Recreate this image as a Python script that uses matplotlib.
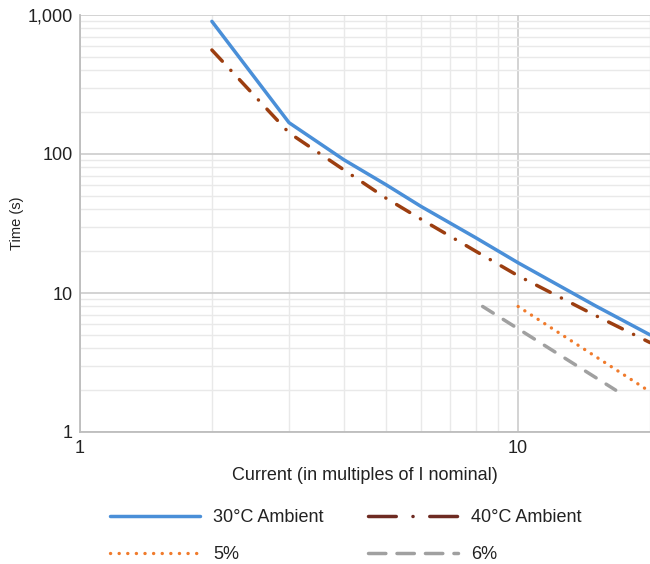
import matplotlib
matplotlib.use('Agg')
import matplotlib.pyplot as plt
from matplotlib.lines import Line2D
from matplotlib.ticker import FixedLocator, FuncFormatter, NullFormatter

plt.rcParams['font.family'] = ['Liberation Sans', 'DejaVu Sans']
plt.rcParams['lines.scale_dashes'] = False

# ─── Data ───────────────────────────────────────────────────────────────────
current_30 = [2, 3, 4, 5, 6, 8, 10, 15, 20]
time_30 = [900, 168, 91, 60, 42, 25, 16.5, 8.1, 5.0]

current_40 = [2, 3, 4, 5, 6, 8, 10, 15, 20]
time_40 = [560, 142, 77, 48, 34, 20, 13.3, 6.9, 4.4]

current_5 = [10, 20]
time_5 = [8.0, 1.95]

current_6 = [8.3, 16.7]
time_6 = [8.0, 2.0]

labels = ['30°C Ambient', '40°C Ambient', '5%', '6%']

BLUE = '#4a8fd8'
RUST = '#9c3e10'
MAROON = '#6e2b22'
ORANGE = '#f07b2c'
GREY = '#a0a0a0'

# ─── Figure ─────────────────────────────────────────────────────────────────
fig = plt.figure(figsize=(6.5, 5.64), dpi=100)
ax = fig.add_axes([80 / 650, (564 - 432) / 564, 570 / 650, (432 - 15) / 564])

ax.set_xscale('log')
ax.set_yscale('log')
ax.set_xlim(1, 20)
ax.set_ylim(1, 1000)

ax.plot(current_30, time_30, color=BLUE, lw=2.5,
        solid_capstyle='round', solid_joinstyle='miter')
ax.plot(current_40, time_40, color=RUST, lw=2.5,
        linestyle=(0, (11, 9, 0.1, 9)), dash_capstyle='round')
ax.plot(current_5, time_5, color=ORANGE, lw=2.4,
        linestyle=(0, (0.1, 5.6)), dash_capstyle='round')
ax.plot(current_6, time_6, color=GREY, lw=2.5,
        linestyle=(0, (9, 8.5)), dash_capstyle='round')

# grid
ax.xaxis.set_major_locator(FixedLocator([1, 10]))
ax.xaxis.set_minor_locator(FixedLocator([2, 3, 4, 5, 6, 7, 8, 9, 20]))
ax.yaxis.set_major_locator(FixedLocator([1, 10, 100, 1000]))
ax.yaxis.set_minor_locator(FixedLocator(
    [m * d for d in (1, 10, 100) for m in range(2, 10)]))
ax.xaxis.set_minor_formatter(NullFormatter())
ax.yaxis.set_minor_formatter(NullFormatter())
ax.xaxis.set_major_formatter(FuncFormatter(lambda v, p: f'{v:,.0f}'))
ax.yaxis.set_major_formatter(FuncFormatter(lambda v, p: f'{v:,.0f}'))

ax.grid(which='major', color='#cccccc', lw=1.2)
ax.grid(which='minor', color='#e9e9e9', lw=1.0)
ax.set_axisbelow(True)

for side in ('top', 'right'):
    ax.spines[side].set_visible(False)
for side in ('left', 'bottom'):
    ax.spines[side].set_color('#bdbdbd')
    ax.spines[side].set_linewidth(1.3)

ax.tick_params(which='both', length=0)
ax.tick_params(axis='y', pad=5, labelsize=13, colors='#222222')
ax.tick_params(axis='x', pad=6, labelsize=13, colors='#222222')

ax.set_xlabel('Current (in multiples of I nominal)', fontsize=13,
              color='#222222')
ax.xaxis.set_label_coords(0.5, -(475 - 432) / 417, transform=ax.transAxes)
ax.xaxis.label.set_va('center')
ax.set_ylabel('Time (s)', fontsize=10.5, color='#222222')
ax.yaxis.set_label_coords(-(80 - 17) / 570, 0.5, transform=ax.transAxes)
ax.yaxis.label.set_va('center')

# legend proxies (legend patterns are drawn longer than in the plot)
handles = [
    Line2D([], [], color=BLUE, lw=2.5, solid_capstyle='round'),
    Line2D([], [], color=ORANGE, lw=2.4, linestyle=(0, (0.1, 6.1)),
           dash_capstyle='round'),
    Line2D([], [], color=MAROON, lw=2.5, linestyle=(0, (20, 12, 0.1, 12)),
           dash_capstyle='round'),
    Line2D([], [], color=GREY, lw=2.5, linestyle=(0, (12.5, 8)),
           dash_capstyle='round'),
]
order = [labels[0], labels[2], labels[1], labels[3]]
fig.legend(handles, order, ncol=2, loc='center left',
           bbox_to_anchor=(110 / 650, 1 - 536 / 564), frameon=False,
           fontsize=13, handlelength=5.0, handletextpad=0.72,
           columnspacing=2.45, labelspacing=1.1,
           borderpad=0, borderaxespad=0, labelcolor='#222222')

fig.savefig('out.png', dpi=100)
